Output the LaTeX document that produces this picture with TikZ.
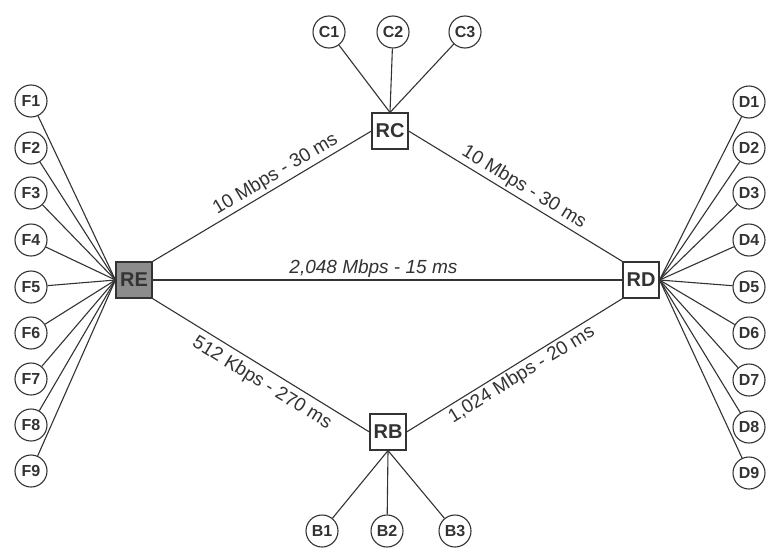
\documentclass[tikz,border=0pt]{standalone}
\usepackage{fontspec}
\setmainfont{Liberation Sans}
\definecolor{ink}{HTML}{333333}
\definecolor{shade}{HTML}{8C8C8C}
\begin{document}
\begin{tikzpicture}[x=1pt,y=-1pt,
  link/.style={draw=ink, line width=1.1pt},
  host/.style={circle, draw=ink, line width=1.1pt, minimum size=32pt, inner sep=0pt,
    font=\fontsize{16}{16}\selectfont\bfseries, text=ink, fill=white},
  router/.style={rectangle, draw=ink, line width=1.1pt, minimum size=36pt, inner sep=0pt,
    font=\fontsize{20}{20}\selectfont\bfseries, text=ink, fill=white},
  lbl/.style={sloped, font=\fontsize{19}{19}\selectfont, text=ink, inner sep=2.5pt}
]
\fill[white] (0,0) rectangle (768,549);
\useasboundingbox (0,0) rectangle (768,549);

% routers
\node[router, fill=shade] (RE) at (134,280) {RE};
\node[router] (RC) at (390,131) {RC};
\node[router] (RB) at (388,432) {RB};
\node[router] (RD) at (641,280) {RD};

% F hosts
\foreach \i/\y in {1/101,2/148,3/193,4/240,5/287,6/333,7/379,8/425,9/471}{
  \node[host] (F\i) at (31,\y) {F\i};
  \draw[link] (RE.west) -- (F\i);
}
% D hosts
\foreach \i/\y in {1/102,2/148,3/193,4/240,5/287,6/333,7/380,8/427,9/473}{
  \node[host] (D\i) at (749,\y) {D\i};
  \draw[link] (RD.east) -- (D\i);
}
% C hosts
\foreach \i/\x in {1/329,2/393,3/465}{
  \node[host] (C\i) at (\x,32) {C\i};
  \draw[link] (RC.north) -- (C\i);
}
% B hosts
\foreach \i/\x in {1/322,2/387,3/455}{
  \node[host] (B\i) at (\x,531) {B\i};
  \draw[link] (RB.south) -- (B\i);
}

% trunk links
\draw[link] (RE.north east) -- node[lbl, above, pos=0.59] {10 Mbps - 30 ms} (RC.west);
\draw[link] (RC.east) -- node[lbl, above, pos=0.51] {10 Mbps - 30 ms} (RD.north west);
\draw[link] (RE.east) -- node[lbl, above, pos=0.47] {\itshape 2,048 Mbps - 15 ms} (RD.west);
\draw[link] (RE.south east) -- node[lbl, below, pos=0.54, yshift=-3pt] {512 Kbps - 270 ms} (RB.west);
\draw[link] (RB.east) -- node[lbl, below, pos=0.505] {1,024 Mbps - 20 ms} (RD.south west);
\end{tikzpicture}
\end{document}
